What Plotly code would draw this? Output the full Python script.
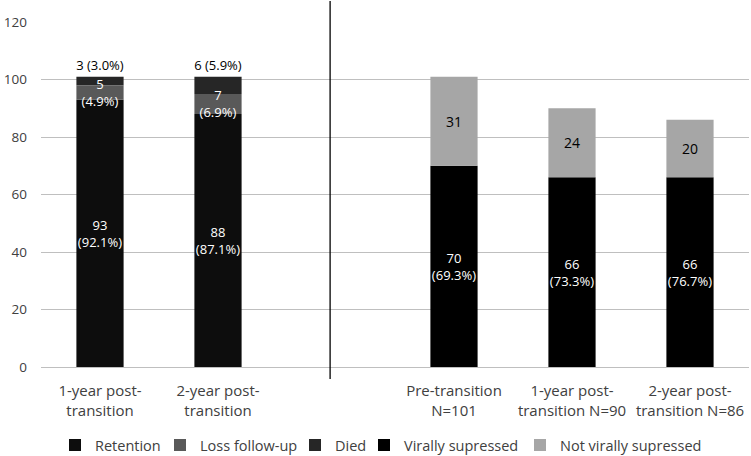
import plotly.graph_objects as go

# ---- data ----
left_x = [0, 1]
right_x = [3, 4, 5]
tick_positions = [0, 1, 3, 4, 5]
tick_labels = ["1-year post-<br>transition", "2-year post-<br>transition",
               "Pre-transition<br>N=101", "1-year post-<br>transition N=90",
               "2-year post-<br>transition N=86"]

retention = [93, 88]
retention_pct = ["92.1%", "87.1%"]
loss_followup = [5, 7]
loss_pct = ["4.9%", "6.9%"]
died = [3, 6]
died_pct = ["3.0%", "5.9%"]

vs = [70, 66, 66]
vs_pct = ["69.3%", "73.3%", "76.7%"]
not_vs = [31, 24, 20]

FONT = "Open Sans"
LEG_FONT = dict(family=FONT, size=14.5, color="#404040")
fig = go.Figure()

common = dict(width=0.4, textangle=0, constraintext="none", cliponaxis=False,
              marker_line_width=0)

loss_base = retention
died_base = [r + l for r, l in zip(retention, loss_followup)]

fig.add_trace(go.Bar(
    name="Retention", x=left_x, y=retention, legend="legend",
    text=[f"{v}<br>({p})" for v, p in zip(retention, retention_pct)],
    textposition="inside", insidetextanchor="middle",
    textfont=dict(color="white", size=13, family=FONT),
    marker_color="#0d0d0d", **common))
fig.add_trace(go.Bar(
    name="Died", x=left_x, y=died, base=died_base, legend="legend3",
    text=[f"{v} ({p})" for v, p in zip(died, died_pct)],
    textposition="outside",
    textfont=dict(color="black", size=13, family=FONT),
    marker_color="#262626", **common))
fig.add_trace(go.Bar(
    name="Loss follow-up", x=left_x, y=loss_followup, base=loss_base, legend="legend2",
    text=[f"{v}<br>({p})" for v, p in zip(loss_followup, loss_pct)],
    textposition="inside", insidetextanchor="middle",
    textfont=dict(color="white", size=13, family=FONT),
    marker_color="#595959", **common))
fig.add_trace(go.Bar(
    name="Virally supressed", x=right_x, y=vs, legend="legend4",
    text=[f"{v}<br>({p})" for v, p in zip(vs, vs_pct)],
    textposition="inside", insidetextanchor="middle",
    textfont=dict(color="white", size=13, family=FONT),
    marker_color="#000000", **common))
fig.add_trace(go.Bar(
    name="Not virally supressed", x=right_x, y=not_vs, base=vs, legend="legend5",
    text=[str(v) for v in not_vs],
    textposition="inside", insidetextanchor="middle",
    textfont=dict(color="black", size=14, family=FONT),
    marker_color="#a6a6a6", **common))

# divider between the two panels
fig.add_shape(type="line", xref="x", yref="paper", x0=1.95, x1=1.95,
              y0=-0.035, y1=1.061, line=dict(color="black", width=1.3))

def leg(xpos):
    return dict(orientation="h", x=xpos, xanchor="left", y=0.024, yanchor="middle",
                xref="container", yref="container", font=LEG_FONT,
                bgcolor="rgba(0,0,0,0)", borderwidth=0)

fig.update_layout(
    barmode="overlay",
    width=751, height=456,
    margin=dict(l=41, r=2, t=22, b=89),
    plot_bgcolor="white", paper_bgcolor="white",
    font=dict(family=FONT, size=13, color="#404040"),
    showlegend=True,
    legend=leg(55 / 751),
    legend2=leg(160 / 751),
    legend3=leg(295 / 751),
    legend4=leg(364 / 751),
    legend5=leg(520 / 751),
    xaxis=dict(range=[-0.5, 5.5], tickvals=tick_positions, ticktext=tick_labels,
               showgrid=False, zeroline=False, showline=True, linecolor="#bfbfbf",
               linewidth=1, ticks="", automargin=False, ticklabelstandoff=10,
               tickfont=dict(size=15, color="#404040", family=FONT)),
    yaxis=dict(range=[0, 120], dtick=20, showgrid=True, gridcolor="#bfbfbf",
               gridwidth=1, zeroline=False, showline=False, ticks="",
               automargin=False, ticklabelstandoff=13,
               tickfont=dict(size=13.5, color="#404040", family=FONT)),
)

fig.write_html("out.html", config={"displayModeBar": False},
               post_script="document.body.style.margin='0';")
